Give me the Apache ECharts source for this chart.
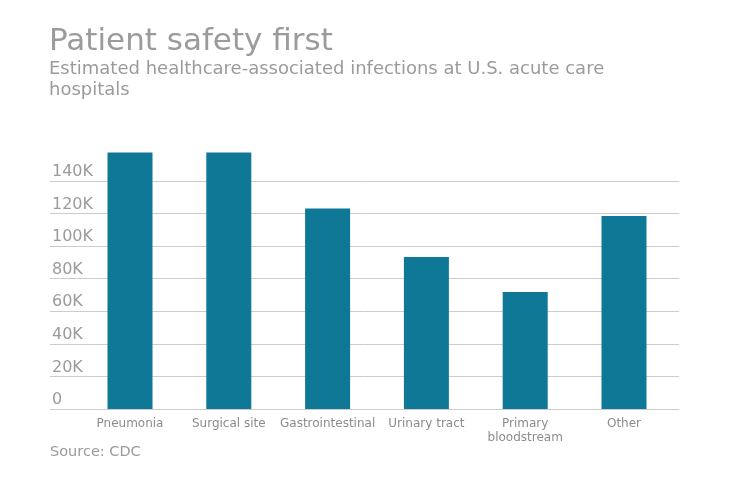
<!DOCTYPE html>
<html>
<head>
<meta charset="utf-8">
<script src="https://cdn.jsdelivr.net/npm/echarts@6/dist/echarts.min.js"></script>
<style>
html,body{margin:0;padding:0;background:#fff;}
#chart{width:740px;height:482px;}
</style>
</head>
<body>
<div id="chart"></div>
<script>
const categories = ['Pneumonia', 'Surgical site', 'Gastrointestinal', 'Urinary tract', 'Primary\nbloodstream', 'Other'];
const infections = [157500, 157500, 123100, 93300, 71900, 118500];
const yTicks = [0, 20000, 40000, 60000, 80000, 100000, 120000, 140000];

const titleText = 'Patient safety first';
const subtitleText = 'Estimated healthcare-associated infections at U.S. acute care\nhospitals';
const sourceText = 'Source: CDC';

const FONT = 'DejaVu Sans, Verdana, sans-serif';
const chart = echarts.init(document.getElementById('chart'), null, {renderer: 'canvas'});

chart.setOption({
  animation: false,
  backgroundColor: '#ffffff',
  title: [
    {
      text: titleText, left: 49, top: 26, padding: 0,
      textStyle: {fontFamily: FONT, fontSize: 31, fontWeight: 'normal', color: '#9b9b9b'}
    },
    {
      text: subtitleText, left: 49, top: 59, padding: 0,
      textStyle: {fontFamily: FONT, fontSize: 18, fontWeight: 'normal', color: '#9b9b9b', lineHeight: 21}
    },
    {
      text: sourceText, left: 50, top: 445, padding: 0,
      textStyle: {fontFamily: FONT, fontSize: 14.5, fontWeight: 'normal', color: '#9b9b9b'}
    }
  ],
  grid: [
    {left: 50, right: 61, top: 148.4, bottom: 73, containLabel: false},
    {left: 80.6, right: 66.6, top: 148.4, bottom: 73, containLabel: false}
  ],
  xAxis: [
    {
      type: 'category', gridIndex: 0, data: categories, show: false
    },
    {
      type: 'category', gridIndex: 1, data: categories,
      axisLine: {show: false}, axisTick: {show: false},
      axisLabel: {
        interval: 0, margin: 8, fontFamily: FONT, fontSize: 12, lineHeight: 14,
        color: '#8c8c8c'
      }
    }
  ],
  yAxis: [
    {
      type: 'value', gridIndex: 0, min: 0, max: 160000, interval: 20000,
      axisLine: {show: false}, axisTick: {show: false},
      splitLine: {show: true, showMaxLine: false, lineStyle: {color: '#cccccc', width: 1}},
      axisLabel: {
        inside: true, margin: 2, align: 'left', verticalAlign: 'bottom',
        padding: [0, 0, 1, 0], showMaxLabel: false,
        fontFamily: FONT, fontSize: 16, color: '#9b9b9b',
        formatter: function (v) {
          if (yTicks.indexOf(v) < 0) return '';
          return v === 0 ? '0' : (v / 1000) + 'K';
        }
      }
    },
    {
      type: 'value', gridIndex: 1, min: 0, max: 160000, interval: 20000, show: false,
      splitLine: {show: false}
    }
  ],
  series: [
    {
      type: 'bar', xAxisIndex: 1, yAxisIndex: 1, data: infections,
      barWidth: 45, itemStyle: {color: '#0e7896'}, z: 3
    }
  ]
});
</script>
</body>
</html>
